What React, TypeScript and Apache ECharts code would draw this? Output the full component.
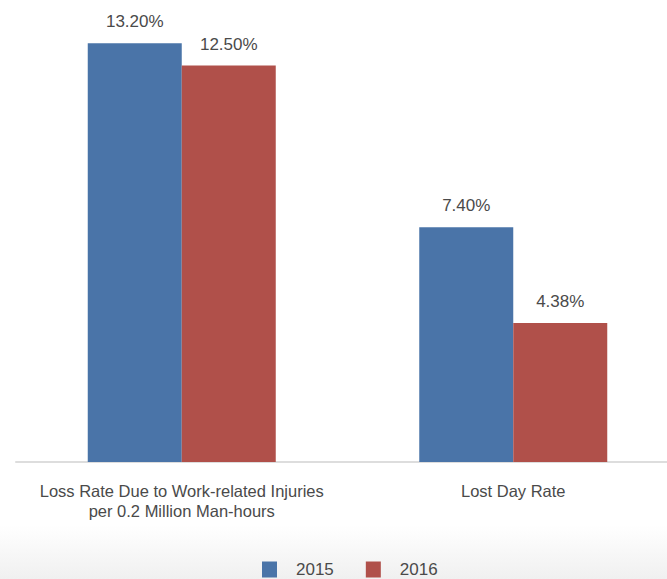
import React, { useEffect, useRef } from "react";
import * as echarts from "echarts";

const categories = [
  "Loss Rate Due to Work-related Injuries\nper 0.2 Million Man-hours",
  "Lost Day Rate",
];
const series2015 = [13.2, 7.4];
const series2016 = [12.5, 4.38];
const seriesNames = ["2015", "2016"];

export default function App() {
  const ref = useRef<HTMLDivElement>(null);
  useEffect(() => {
    document.body.style.margin = "0";
    const chart = echarts.init(ref.current!, null, { renderer: "svg" });
    const font = "'Liberation Sans', Arial, sans-serif";
    const labelCfg = {
      show: true,
      position: "top",
      distance: 13,
      formatter: (p: any) => p.value.toFixed(2) + "%",
      color: "#4a4a4a",
      fontSize: 17,
      fontFamily: font,
    };
    chart.setOption({
      animation: false,
      backgroundColor: "#fff",
      graphic: [
        {
          type: "rect",
          z: -10,
          silent: true,
          shape: { x: 0, y: 525, width: 680, height: 54 },
          style: {
            fill: new echarts.graphic.LinearGradient(0, 0, 0, 1, [
              { offset: 0, color: "#ffffff" },
              { offset: 1, color: "#f0f0f0" },
            ]),
          },
        },
      ],
      grid: { left: 16, right: 0, top: 18, bottom: 117, containLabel: false },
      legend: {
        data: seriesNames,
        left: 257,
        top: 556,
        itemWidth: 15,
        itemHeight: 16,
        itemGap: 32,
        icon: "rect",
        textStyle: {
          color: "#4a4a4a",
          fontSize: 17,
          fontFamily: font,
          padding: [0, 0, 0, 14],
        },
      },
      xAxis: {
        type: "category",
        data: categories,
        axisLine: { show: true, lineStyle: { color: "#dddddd", width: 2 } },
        axisTick: { show: false },
        axisLabel: {
          color: "#4a4a4a",
          fontSize: 16.5,
          fontFamily: font,
          lineHeight: 20,
          margin: 19,
          interval: 0,
        },
      },
      yAxis: {
        type: "value",
        min: 0,
        max: 14,
        show: false,
        splitLine: { show: false },
      },
      series: [
        {
          name: seriesNames[0],
          type: "bar",
          data: series2015,
          barWidth: 94,
          barGap: "0%",
          itemStyle: { color: "#4a74a8" },
          label: labelCfg,
        },
        {
          name: seriesNames[1],
          type: "bar",
          data: series2016,
          barWidth: 94,
          barGap: "0%",
          itemStyle: { color: "#b0504a" },
          label: labelCfg,
        },
      ],
    });
    return () => chart.dispose();
  }, []);
  return (
    <div style={{ width: 667, height: 579, overflow: "hidden", position: "relative" }}>
      <div ref={ref} style={{ width: 679, height: 579 }} />
    </div>
  );
}
